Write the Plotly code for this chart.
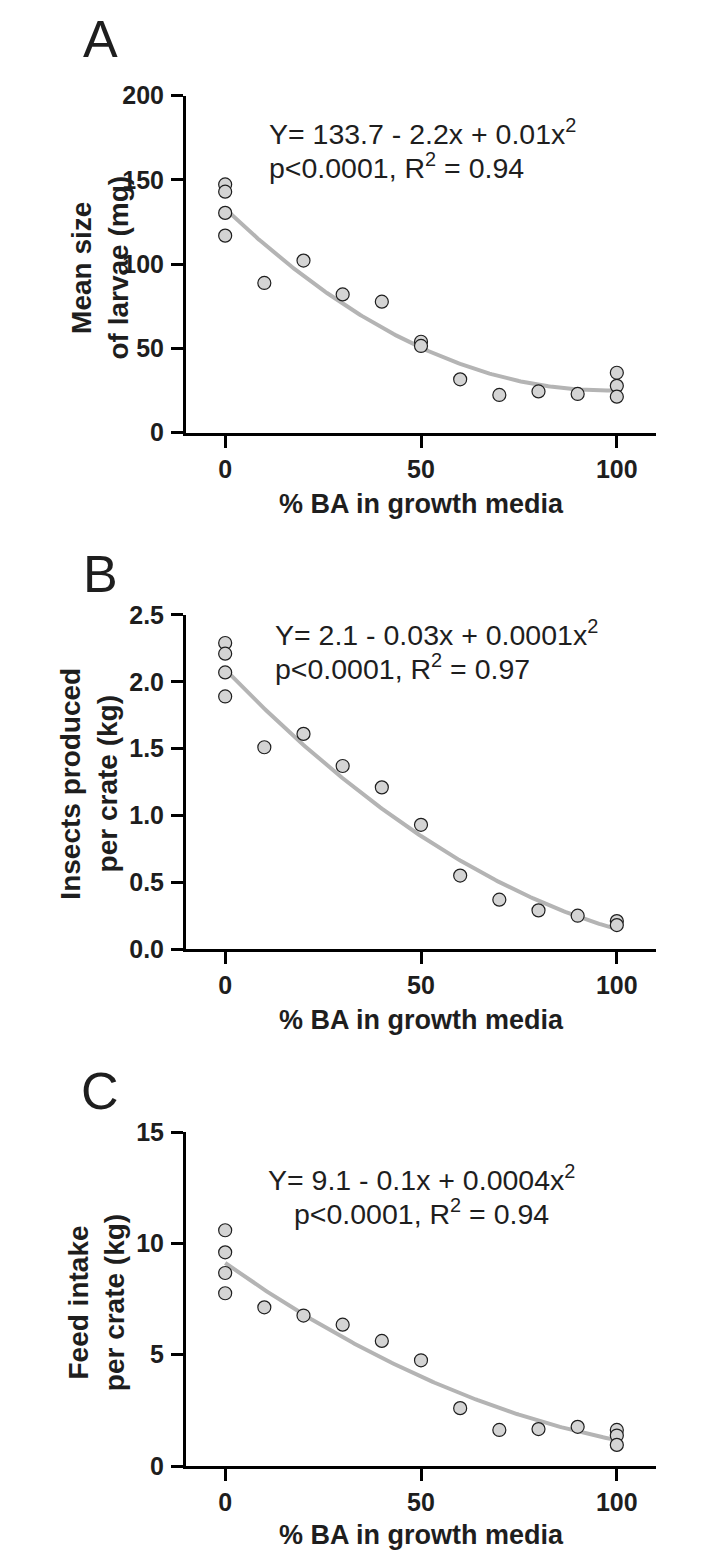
import numpy as np
import plotly.graph_objects as go

# ---------------- data ----------------
x_a = [0, 0, 0, 0, 10, 20, 30, 40, 50, 50, 60, 70, 80, 90, 100, 100, 100]
y_a = [147.3, 143.0, 130.4, 116.9, 88.8, 102.1, 82.0, 77.7, 53.9, 51.4, 31.6, 22.3, 24.4, 22.9, 35.5, 27.7, 21.3]

x_b = [0, 0, 0, 0, 10, 20, 30, 40, 50, 60, 70, 80, 90, 100, 100]
y_b = [2.29, 2.21, 2.07, 1.89, 1.51, 1.61, 1.37, 1.21, 0.93, 0.55, 0.37, 0.29, 0.25, 0.21, 0.18]

x_c = [0, 0, 0, 0, 10, 20, 30, 40, 50, 60, 70, 80, 90, 100, 100, 100]
y_c = [10.59, 9.60, 8.67, 7.76, 7.13, 6.76, 6.35, 5.62, 4.75, 2.60, 1.62, 1.66, 1.76, 1.62, 1.37, 0.95]

panel_letters = ["A", "B", "C"]
y_titles = ["Mean size<br>of larvae (mg)", "Insects produced<br>per crate (kg)", "Feed intake<br>per crate (kg)"]
x_title = "% BA in growth media"
eq_lines = [
    ["Y= 133.7 - 2.2x + 0.01x<sup>2</sup>", "p<0.0001, R<sup>2</sup> = 0.94"],
    ["Y= 2.1 - 0.03x + 0.0001x<sup>2</sup>", "p<0.0001, R<sup>2</sup> = 0.97"],
    ["Y= 9.1 - 0.1x + 0.0004x<sup>2</sup>", "p<0.0001, R<sup>2</sup> = 0.94"],
]
y_ticks = [[0, 50, 100, 150, 200], [0, 0.5, 1.0, 1.5, 2.0, 2.5], [0, 5, 10, 15]]
y_ranges = [[0, 200], [0, 2.5], [0, 15]]
x_ticks = [0, 50, 100]

# ---------------- layout helpers ----------------
W, H = 719, 1567
OFF = 8  # page body margin
FONT = "Liberation Sans, Arial, Helvetica, sans-serif"
TXT = "#1e1e1e"


def py(p):
    return 1 - (p - OFF) / H


def px(p):
    return (p - OFF) / W


xdom = [px(186), px(656)]
ydoms = [[py(426), py(83)], [py(952), py(611.7)], [py(1478.3), py(1138.3)]]

fig = go.Figure()
datasets = [(x_a, y_a), (x_b, y_b), (x_c, y_c)]

for i, (xs, ys) in enumerate(datasets):
    xa = "x" if i == 0 else f"x{i+1}"
    ya = "y" if i == 0 else f"y{i+1}"
    coef = np.polyfit(xs, ys, 2)  # least-squares quadratic fit of the data
    xf = np.linspace(0, 100, 201)
    yf = np.polyval(coef, xf)
    fig.add_trace(go.Scatter(x=xf, y=yf, mode="lines", xaxis=xa, yaxis=ya,
                             line=dict(color="#b4b4b4", width=4), showlegend=False,
                             hoverinfo="skip"))
    fig.add_trace(go.Scatter(x=xs, y=ys, mode="markers", xaxis=xa, yaxis=ya,
                             marker=dict(size=13, color="#d4d4d4",
                                         line=dict(color="#1e1e1e", width=1.2)),
                             showlegend=False, cliponaxis=False))

axis_common = dict(showline=True, linecolor="black", linewidth=3, ticks="outside",
                   ticklen=12, tickwidth=3, tickcolor="black", showgrid=False,
                   zeroline=False,
                   tickfont=dict(family=FONT, size=25, color=TXT, weight="bold"))

layout = dict(width=W, height=H, margin=dict(l=0, r=0, t=0, b=0),
              paper_bgcolor="white", plot_bgcolor="white", showlegend=False)

for i in range(3):
    xk = "xaxis" if i == 0 else f"xaxis{i+1}"
    yk = "yaxis" if i == 0 else f"yaxis{i+1}"
    ya = "y" if i == 0 else f"y{i+1}"
    xa = "x" if i == 0 else f"x{i+1}"
    layout[xk] = dict(axis_common, domain=xdom, range=[-10, 110], tickvals=x_ticks,
                      anchor=ya, ticklabelstandoff=0)
    layout[yk] = dict(axis_common, domain=ydoms[i], range=y_ranges[i], tickvals=y_ticks[i],
                      anchor=xa, ticklabelstandoff=2,
                      tickformat=".1f" if i == 1 else "d")
fig.update_layout(**layout)

ann = []
# panel letters
letter_pos = [25, 570, 1096]
for i, L in enumerate(panel_letters):
    ann.append(dict(text=L, x=px(100), y=py(letter_pos[i]), xref="paper", yref="paper",
                    showarrow=False, xanchor="center", yanchor="middle",
                    font=dict(family=FONT, size=52, color=TXT)))
# y titles
ytitle_pos = [(100, 258), (88.5, 784), (96.5, 1312)]
for i, t in enumerate(y_titles):
    ann.append(dict(text="<b>" + t + "</b>", x=px(ytitle_pos[i][0]), y=py(ytitle_pos[i][1]),
                    xref="paper", yref="paper", showarrow=False, textangle=-90,
                    xanchor="center", yanchor="middle",
                    font=dict(family=FONT, size=28, color=TXT)))
# x titles
xtitle_y = [499, 1024, 1549]
for i in range(3):
    ann.append(dict(text="<b>" + x_title + "</b>", x=px(421.7), y=py(xtitle_y[i]),
                    xref="paper", yref="paper", showarrow=False,
                    xanchor="center", yanchor="middle",
                    font=dict(family=FONT, size=27, color=TXT)))
# equations
eq_pos = [
    [(266.7, 120, "left"), (266.7, 155, "left")],
    [(273.3, 630, "left"), (273.3, 665, "left")],
    [(421.7, 1185, "center"), (421.7, 1220, "center")],
]
for i in range(3):
    for j in range(2):
        xx, yy, anc = eq_pos[i][j]
        ann.append(dict(text=eq_lines[i][j], x=px(xx), y=py(yy), xref="paper", yref="paper",
                        showarrow=False, xanchor=anc, yanchor="middle",
                        font=dict(family=FONT, size=28.5, color=TXT)))
fig.update_layout(annotations=ann)

fig.write_html("out.html")
